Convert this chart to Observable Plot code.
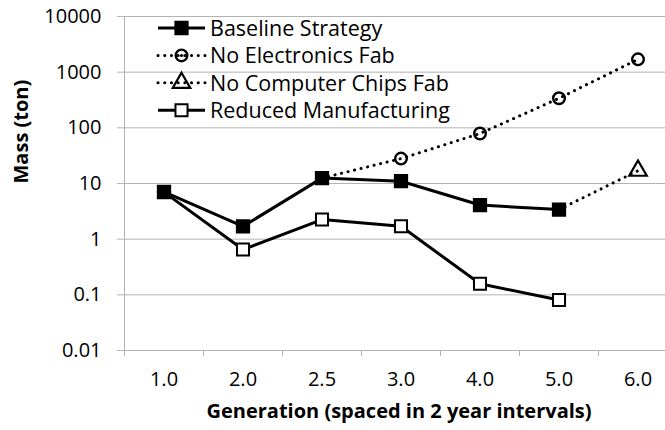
<!DOCTYPE html>
<html>
<head>
<meta charset="utf-8">
<script src="https://cdn.jsdelivr.net/npm/d3@7"></script>
<script src="https://cdn.jsdelivr.net/npm/@observablehq/plot@0.6"></script>
<style>
  html, body { margin: 0; padding: 0; background: #fff; }
  #chart { width: 665px; height: 430px; overflow: hidden; }
  svg { font-family: "Open Sans", sans-serif; }
</style>
</head>
<body>
<div id="chart"></div>
<script>
// ---- data ----
const categories = ["1.0", "2.0", "2.5", "3.0", "4.0", "5.0", "6.0"];
const seriesNames = ["Baseline Strategy", "No Electronics Fab", "No Computer Chips Fab", "Reduced Manufacturing"];
const baseline      = [7.1, 1.7, 12.5, 11, 4.1, 3.4, null];
const noElectronics = [null, null, 12.5, 28, 79, 340, 1700];
const noChips       = [null, null, null, null, null, 3.4, 17];
const reduced       = [7.0, 0.65, 2.25, 1.7, 0.158, 0.081, null];
const yTicks = [0.01, 0.1, 1, 10, 100, 1000, 10000];
const yTickLabels = ["0.01", "0.1", "1", "10", "100", "1000", "10000"];
const xTitle = "Generation (spaced in 2 year intervals)";
const yTitle = "Mass (ton)";

const allSeries = [baseline, noElectronics, noChips, reduced];
const rows = [];
allSeries.forEach((vals, s) => {
  let first = true;
  vals.forEach((v, i) => {
    if (v != null) {
      rows.push({series: seriesNames[s], i, x: i + 0.5, value: v, start: first && s !== 0 && s !== 3 && i > 0});
      first = false;
    }
  });
});
const bySeries = name => rows.filter(d => d.series === name);

const grid = "#b3b3b3";
const fontSize = 20;

const svg = Plot.plot({
  width: 665,
  height: 430,
  marginLeft: 124,
  marginRight: 0,
  marginTop: 16,
  marginBottom: 80,
  style: {fontFamily: "Open Sans, sans-serif", fontSize: fontSize + "px", color: "#000", background: "#fff"},
  x: {type: "linear", domain: [0, categories.length], range: [124, 124 + 79 * categories.length]},
  y: {type: "log", domain: [0.01, 10000]},
  marks: [
    Plot.gridY(yTicks, {stroke: grid, strokeOpacity: 1, strokeWidth: 1}),
    Plot.ruleX([0], {stroke: grid, strokeWidth: 1}),
    Plot.axisY(yTicks, {tickSize: 7, tickPadding: 16, stroke: grid, strokeOpacity: 1,
      tickFormat: d => yTickLabels[yTicks.indexOf(d)], fontSize: fontSize, fill: "#000", label: null}),
    Plot.axisX(d3.range(0, categories.length + 1), {tickSize: 6, stroke: grid, strokeOpacity: 1,
      tickFormat: () => "", label: null}),
    Plot.axisX(categories.map((c, i) => i + 0.5), {tickSize: 0, tickPadding: 21,
      tickFormat: d => categories[Math.floor(d)], fontSize: fontSize, fill: "#000", label: null}),
    Plot.text([xTitle], {frameAnchor: "bottom", dy: 67, dx: 4, fontWeight: "bold", fontSize: fontSize, fill: "#000"}),
    Plot.text([yTitle], {frameAnchor: "left", dx: -103, rotate: -90, fontWeight: "bold", fontSize: fontSize, fill: "#000"}),
    // dotted series
    Plot.line(bySeries(seriesNames[1]), {x: "x", y: "value", stroke: "#000", strokeWidth: 3,
      strokeDasharray: "0.1,6.6", strokeLinecap: "round"}),
    Plot.line(bySeries(seriesNames[2]), {x: "x", y: "value", stroke: "#000", strokeWidth: 3,
      strokeDasharray: "0.1,6.6", strokeLinecap: "round"}),
    // solid series
    Plot.line(bySeries(seriesNames[3]), {x: "x", y: "value", stroke: "#000", strokeWidth: 3}),
    Plot.line(bySeries(seriesNames[0]), {x: "x", y: "value", stroke: "#000", strokeWidth: 3}),
    // markers
    Plot.dot(bySeries(seriesNames[3]), {x: "x", y: "value", symbol: "square", r: 6.8, fill: "#fff", stroke: "#000", strokeWidth: 2}),
    Plot.dot(bySeries(seriesNames[0]), {x: "x", y: "value", symbol: "square", r: 7.2, fill: "#000", stroke: "#000", strokeWidth: 1.5}),
    Plot.dot(bySeries(seriesNames[1]).filter(d => !d.start), {x: "x", y: "value", symbol: "circle", r: 5.8, fill: "none", stroke: "#000", strokeWidth: 2.4}),
    Plot.dot(bySeries(seriesNames[2]).filter(d => !d.start), {x: "x", y: "value", symbol: "triangle", r: 6.5, fill: "none", stroke: "#000", strokeWidth: 2.2})
  ]
});

// ---- legend (top-left inside the plot) ----
const legendFont = 21.5;
const lg = d3.select(svg).append("g").attr("class", "legend").attr("text-anchor", "start");
const legendStyles = [
  {dash: null, symbol: d3.symbolSquare, r: 7.2, fill: "#000", sw: 1.5},
  {dash: "0.1,6.6", symbol: d3.symbolCircle, r: 5.8, fill: "none", sw: 2.4},
  {dash: "0.1,6.6", symbol: d3.symbolTriangle, r: 6.5, fill: "none", sw: 2.2},
  {dash: null, symbol: d3.symbolSquare, r: 6.8, fill: "#fff", sw: 2}
];
seriesNames.forEach((name, k) => {
  const st = legendStyles[k];
  const cy = 28 + k * 27.4;
  const row = lg.append("g").attr("transform", `translate(0,${cy})`);
  row.append("line").attr("x1", 158).attr("x2", 205).attr("y1", 0).attr("y2", 0)
    .attr("stroke", "#000").attr("stroke-width", 3)
    .attr("stroke-dasharray", st.dash).attr("stroke-linecap", st.dash ? "round" : "butt");
  row.append("path").attr("transform", "translate(181.5,0)")
    .attr("d", d3.symbol(st.symbol, Math.PI * st.r * st.r)())
    .attr("fill", st.fill).attr("stroke", "#000").attr("stroke-width", st.sw);
  if (k === 1) row.append("circle").attr("cx", 181.5).attr("cy", 0).attr("r", 1.5).attr("fill", "#000");
  row.append("text").attr("x", 210).attr("y", 0).attr("dy", "0.36em")
    .attr("text-anchor", "start")
    .attr("font-size", legendFont).attr("fill", "#000").text(name);
});

document.getElementById("chart").appendChild(svg);
</script>
</body>
</html>
